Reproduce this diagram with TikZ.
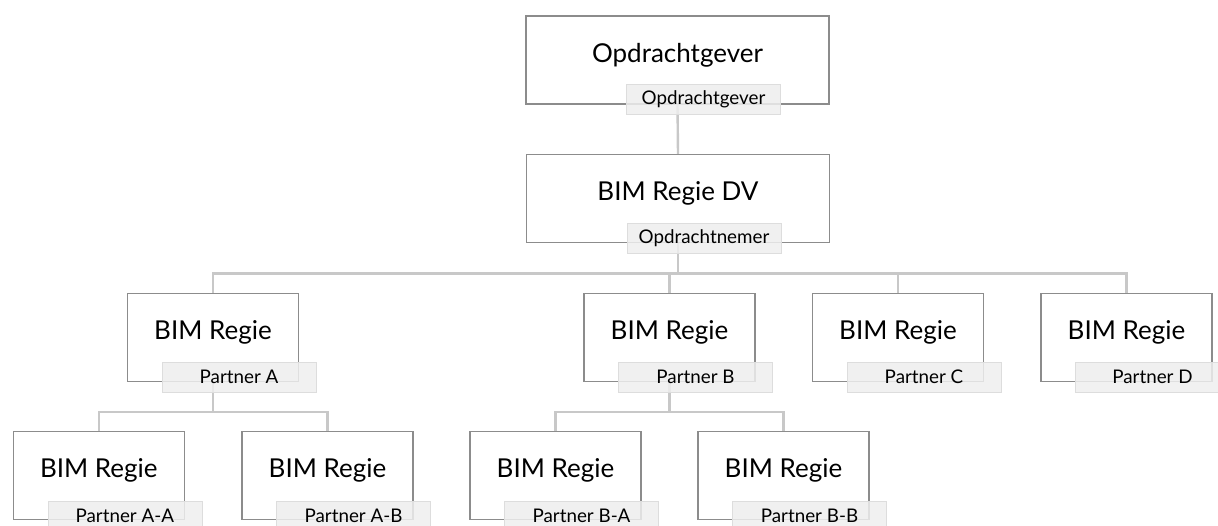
\documentclass[tikz,border=0pt]{standalone}
\usepackage{fontspec}
\setmainfont{Lato}
\usetikzlibrary{positioning}
\definecolor{boxline}{HTML}{8C8C8C}
\definecolor{linkline}{HTML}{C8C8C8}
\definecolor{tagfill}{HTML}{EEEEEE}
\definecolor{tagline}{HTML}{DDDDDD}

\begin{document}
\begin{tikzpicture}[x=1pt,y=-1pt,
  org/.style={draw=boxline,line width=1.2pt,fill=white,minimum width=171pt,minimum height=88pt,inner sep=0pt,text height=15pt,text depth=11pt,font=\fontsize{26}{30}\selectfont},
  headbox/.style={org,minimum width=303pt},
  tag/.style={draw=tagline,fill=tagfill,fill opacity=.85,text opacity=1,minimum width=154pt,minimum height=30pt,inner sep=0pt,font=\fontsize{18.8}{22}\selectfont},
  link/.style={draw=linkline,line width=2.4pt}]
\useasboundingbox (0,0) rectangle (1218,525);

\node[headbox] (opd) at (677.5,60) {Opdrachtgever};
\node[headbox] (dv) at (678,198.5) {BIM Regie DV};

\node[org] (pA) at (213,337.5) {BIM Regie};
\node[org] (pB) at (669.5,337.5) {BIM Regie};
\node[org] (pC) at (898,337.5) {BIM Regie};
\node[org] (pD) at (1126.5,337.5) {BIM Regie};

\node[org] (pAA) at (98.8,475.7) {BIM Regie};
\node[org] (pAB) at (327.5,475.7) {BIM Regie};
\node[org] (pBA) at (555.5,475.7) {BIM Regie};
\node[org] (pBB) at (783.5,475.7) {BIM Regie};

\coordinate (bus1) at (0,273.5);
\coordinate (bus2) at (0,412);

\draw[link] (opd.south) -- (dv.north);
\foreach \c in {pA,pB,pC,pD}
  \draw[link] (dv.south) -- (dv.south |- bus1) -| (\c.north);
\foreach \c in {pAA,pAB}
  \draw[link] (pA.south) -- (pA.south |- bus2) -| (\c.north);
\foreach \c in {pBA,pBB}
  \draw[link] (pB.south) -- (pB.south |- bus2) -| (\c.north);

\node[tag] (tOpd) at ([shift={(26,-5)}]opd.south) {Opdrachtgever};
\node[tag] (tDv) at ([shift={(26,-5)}]dv.south) {Opdrachtnemer};
\node[tag] (tA) at ([shift={(26,-5)}]pA.south) {Partner A};
\node[tag] (tB) at ([shift={(26,-5)}]pB.south) {Partner B};
\node[tag] (tC) at ([shift={(26,-5)}]pC.south) {Partner C};
\node[tag] (tD) at ([shift={(26,-5)}]pD.south) {Partner D};
\node[tag] (tAA) at ([shift={(26,-4)}]pAA.south) {Partner A-A};
\node[tag] (tAB) at ([shift={(26,-4)}]pAB.south) {Partner A-B};
\node[tag] (tBA) at ([shift={(26,-4)}]pBA.south) {Partner B-A};
\node[tag] (tBB) at ([shift={(26,-4)}]pBB.south) {Partner B-B};
\end{tikzpicture}
\end{document}
